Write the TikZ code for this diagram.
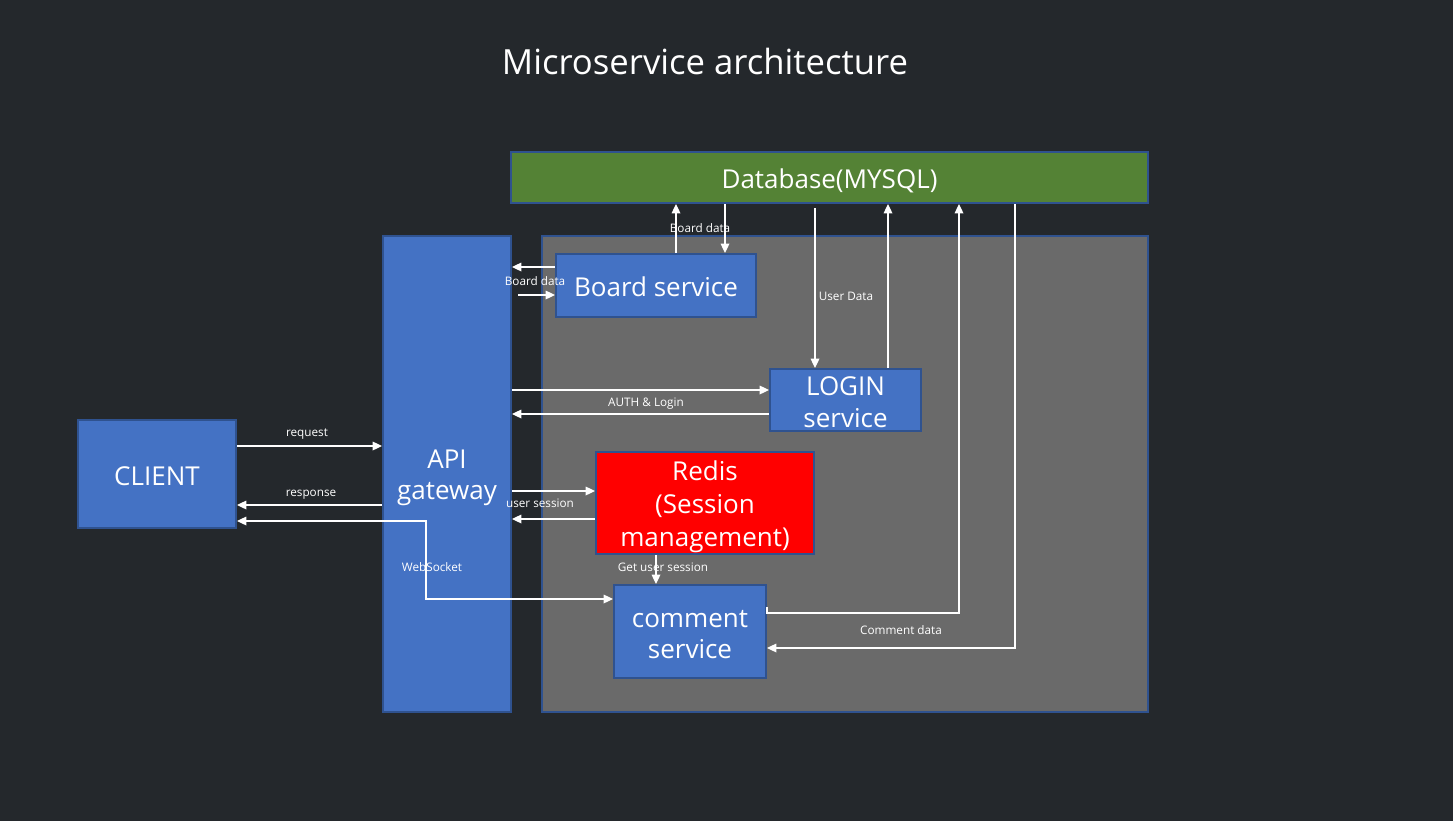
\documentclass[tikz,border=0pt]{standalone}
\usepackage{fontspec}
\setmainfont{Open Sans}
\usetikzlibrary{arrows.meta}
\definecolor{bgc}{RGB}{36,40,44}
\definecolor{boxblue}{RGB}{68,114,196}
\definecolor{edgeblue}{RGB}{47,82,143}
\definecolor{dbgreen}{RGB}{84,130,53}
\definecolor{contgray}{RGB}{106,106,106}
\definecolor{redisred}{RGB}{255,0,0}
\newcommand{\topst}{\rule{0pt}{20pt}}
\newcommand{\botst}{\rule[-3pt]{0pt}{0pt}}
\tikzset{
  box/.style={draw=edgeblue, line width=1.5pt, fill=boxblue, text=white, inner sep=0pt, align=center,
    font=\fontsize{19.5}{23.5}\selectfont},
  arr/.style={draw=white, line width=0.9pt, -{Triangle[length=7pt,width=6.5pt]}},
  arrb/.style={draw=white, line width=0.9pt, {Triangle[length=7pt,width=6.5pt]}-{Triangle[length=7pt,width=6.5pt]}},
  lbl/.style={text=white, inner sep=0pt, text height=6.5pt, text depth=2pt, font=\fontsize{8.8}{10.5}\selectfont}
}
\begin{document}
\begin{tikzpicture}[x=0.75pt,y=-0.75pt]
\fill[bgc] (0,0) rectangle (1453,821);
\useasboundingbox (0,0) rectangle (1453,821);
\node[text=white, font=\fontsize{26}{30}\selectfont] (title) at (705,61) {Microservice architecture};
% containers
\node[box, fill=contgray, minimum width=454.5pt, minimum height=357pt] (cont) at (845,474) {};
\node[box, fill=dbgreen, minimum width=477.75pt, minimum height=38.25pt] (db) at (829.5,177.5) {\topst Database(MYSQL)\botst};
\node[box, minimum width=96pt, minimum height=357pt] (api) at (447,474) {\topst API\\gateway\botst};
\node[box, minimum width=118.5pt, minimum height=81pt] (client) at (157,474) {\topst CLIENT\botst};
\node[box, minimum width=150pt, minimum height=47.25pt] (board) at (656,285.5) {\topst Board service\botst};
\node[box, minimum width=113.25pt, minimum height=46.5pt] (login) at (845.5,400) {\topst LOGIN\\service\botst};
\node[box, fill=redisred, minimum width=163.5pt, minimum height=76.5pt, font=\fontsize{19.5}{24.75}\selectfont] (redis) at (705,503) {\topst Redis\\(Session\\management)\botst};
\node[box, minimum width=114pt, minimum height=69.75pt] (comment) at (690,631.5) {\topst comment\\service\botst};
% client <-> api
\draw[arr] (client.east |- 0,446) -- (api.west |- 0,446);
\node[lbl] (lreq) at (307,433) {request};
\draw[arr] (api.west |- 0,505) -- (client.east |- 0,505);
\node[lbl] (lresp) at (311,493) {response};
\coordinate (wsa) at (426,521);
\coordinate (wsb) at (426,599);
\draw[arrb] (client.east |- wsa) -- (wsa) -- (wsb) -- (comment.west |- wsb);
\node[lbl] (lws) at (432,568) {WebSocket};
% board
\draw[arr] (board.west |- 0,267) -- (api.east |- 0,267);
\coordinate (bds) at (518,295);
\draw[arr] (bds) -- (board.west |- bds);
\node[lbl] (lbd1) at (535,282) {Board data};
\draw[arr] (board.north -| 676,0) -- (db.south -| 676,0);
\draw[arr] (db.south -| 725,0) -- (board.north -| 725,0);
\node[lbl] (lbd2) at (700,229) {Board data};
% login
\coordinate (uds) at (815,208);
\draw[arr] (uds) -- (login.north -| uds);
\node[lbl] (lud) at (846,297) {User Data};
\draw[arr] (login.north -| 888,0) -- (db.south -| 888,0);
\draw[arr] (api.east |- 0,390) -- (login.west |- 0,390);
\draw[arr] (login.west |- 0,414) -- (api.east |- 0,414);
\node[lbl] (lauth) at (646,403) {AUTH \& Login};
% redis
\draw[arr] (api.east |- 0,491) -- (redis.west |- 0,491);
\draw[arr] (redis.west |- 0,519) -- (api.east |- 0,519);
\node[lbl] (lus) at (540,504) {user session};
\draw[arr] (redis.south -| 656,0) -- (comment.north -| 656,0);
\node[lbl] (lgus) at (663,568) {Get user session};
% comment <-> db
\draw[arr] (comment.east |- 0,607) -- (comment.east |- 0,613) -| (db.south -| 959,0);
\draw[arr] (db.south -| 1015,0) |- (comment.east |- 0,648);
\node[lbl] (lcd) at (901,631) {Comment data};
\end{tikzpicture}
\end{document}
